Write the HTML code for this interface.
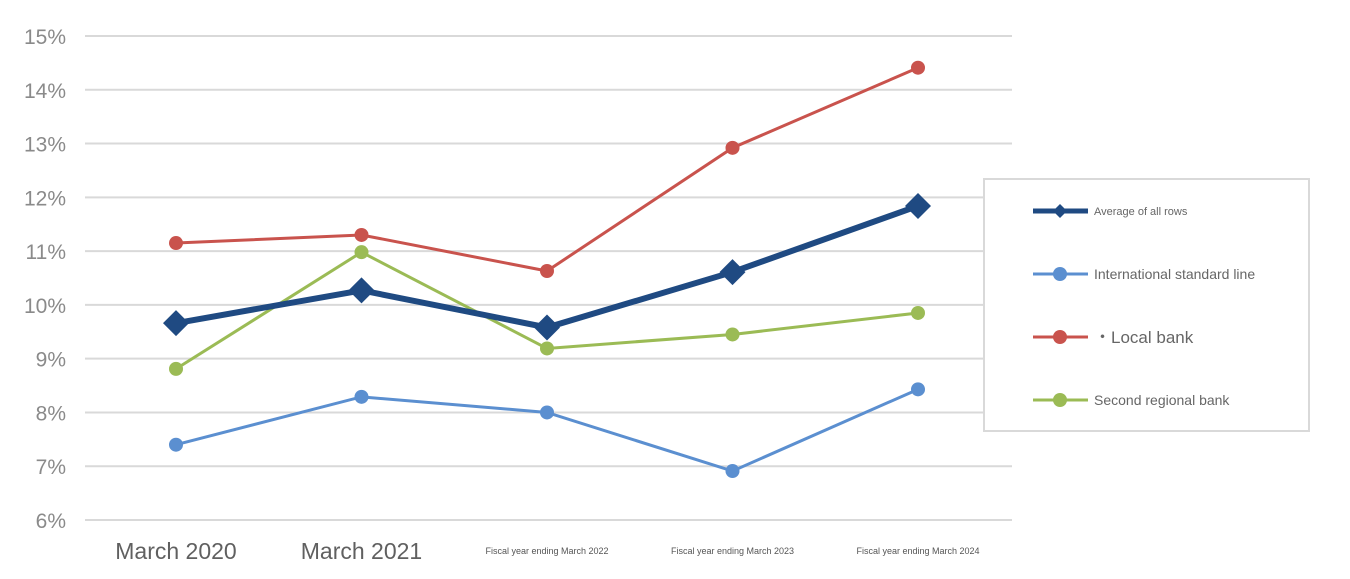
<!DOCTYPE html>
<html><head><meta charset="utf-8"><style>
html,body{margin:0;padding:0;background:#fff;}
svg{display:block;font-family:"Liberation Sans",sans-serif;}
</style></head><body>
<svg id="chart" width="1350" height="579" viewBox="0 0 1350 579"></svg>
<script>
const categories=["March 2020","March 2021","Fiscal year ending March 2022","Fiscal year ending March 2023","Fiscal year ending March 2024"];
const avgAll=[9.66,10.27,9.58,10.61,11.84];
const intlStd=[7.40,8.29,8.00,6.91,8.43];
const localBank=[11.15,11.30,10.63,12.92,14.41];
const secondRegional=[8.81,10.98,9.19,9.45,9.85];
const yTicks=[6,7,8,9,10,11,12,13,14,15];
const seriesNames=["Average of all rows","International standard line","・Local bank","Second regional bank"];

const NS="http://www.w3.org/2000/svg";
const svg=document.getElementById('chart');
const x0=85,x1=1012,yTop=36,yBot=520,yMin=6,yMax=15;
const xs=i=>176+i*185.5;
const ys=v=>yBot-(v-yMin)/(yMax-yMin)*(yBot-yTop);
function mk(t,a,p){const e=document.createElementNS(NS,t);for(const k in a)e.setAttribute(k,a[k]);(p||svg).appendChild(e);return e;}

yTicks.forEach(t=>{
  const l=mk('line',{x1:x0,x2:x1,y1:ys(t),y2:ys(t),stroke:'#d9d9d9','stroke-width':2});
  
  
  const tx=mk('text',{x:66,y:ys(t)+8,'text-anchor':'end','font-size':21,fill:'#8a8a8a'});
  tx.textContent=t+'%';
  
  
});
categories.forEach((c,i)=>{
  const big=i<2;
  const tx=mk('text',{x:xs(i),y:big?559:554,'text-anchor':'middle','font-size':big?23:9,fill:big?'#606060':'#555'});
  tx.textContent=c;
  
  
});
const series=[
 {d:intlStd,c:'#5b8fd0',w:3,m:'circle'},
 {d:localBank,c:'#c9534d',w:3,m:'circle'},
 {d:secondRegional,c:'#9bbb55',w:3,m:'circle'},
 {d:avgAll,c:'#1f4a82',w:6,m:'diamond'}
];
const names=["international-standard-line","local-bank","second-regional-bank","average-of-all-rows"];
series.forEach((s,k)=>{
  const g=mk('g',{});
  
  
  const pts=s.d.map((v,i)=>xs(i)+','+ys(v)).join(' ');
  mk('polyline',{points:pts,fill:'none',stroke:s.c,'stroke-width':s.w},g);
  s.d.forEach((v,i)=>{
    let m;
    if(s.m==='circle') m=mk('circle',{cx:xs(i),cy:ys(v),r:7,fill:s.c},g);
    else {const x=xs(i),y=ys(v);m=mk('polygon',{points:`${x},${y-13} ${x+13},${y} ${x},${y+13} ${x-13},${y}`,fill:s.c},g);}
    
    
  });
});
// legend
const lg=mk('g',{});


mk('rect',{x:984,y:179,width:325,height:252,fill:'#fff',stroke:'#d9d9d9','stroke-width':2},lg);
const legY=[211,274,337,400],legC=['#1f4a82','#5b8fd0','#c9534d','#9bbb55'],legF=[11,14,17,14];
legY.forEach((y,i)=>{
  const e=mk('g',{},lg);
  
  
  mk('line',{x1:1033,x2:1088,y1:y,y2:y,stroke:legC[i],'stroke-width':i==0?5:3},e);
  if(i==0) mk('polygon',{points:`1060,${y-7} 1067,${y} 1060,${y+7} 1053,${y}`,fill:legC[i]},e);
  else mk('circle',{cx:1060,cy:y,r:7,fill:legC[i]},e);
  const t=mk('text',{x:1094,y:y+legF[i]*0.35,'font-size':legF[i],fill:'#666'},e);
  t.textContent=seriesNames[i];
});
</script>
</body></html>
